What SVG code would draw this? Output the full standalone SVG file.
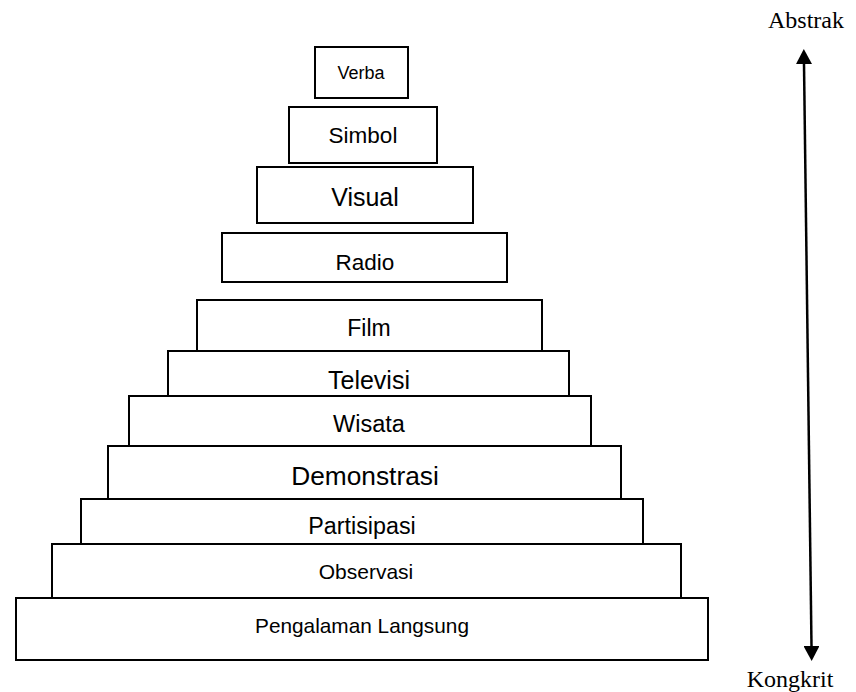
<svg xmlns="http://www.w3.org/2000/svg" width="856" height="692" viewBox="0 0 856 692">
<style>
.box{fill:#fff;stroke:#000;stroke-width:2}
.lbl{font-family:"Liberation Sans",Arial,sans-serif;fill:#000;text-anchor:middle}
.ax{font-family:"Liberation Serif","Times New Roman",serif;font-size:24px;fill:#000;text-anchor:middle}
.conn{stroke:#000;stroke-width:2.5;fill:none}
</style>
<defs>
<marker id="ah" markerUnits="userSpaceOnUse" markerWidth="16" markerHeight="16" refX="0" refY="8" orient="auto-start-reverse" viewBox="0 0 16 16">
<path d="M0,0 L15,8 L0,16 z" fill="#000"/>
</marker>
</defs>
<rect width="856" height="692" fill="#fff"/>
<g id="verba"><rect class="box" x="315" y="47" width="93" height="51"/><text class="lbl" x="361" y="79" font-size="18">Verba</text></g>
<g id="simbol"><rect class="box" x="289" y="107" width="148" height="56"/><text class="lbl" x="363" y="143" font-size="22.5">Simbol</text></g>
<g id="visual"><rect class="box" x="257" y="167" width="216" height="56"/><text class="lbl" x="365" y="206" font-size="25">Visual</text></g>
<g id="radio"><rect class="box" x="222" y="233" width="285" height="49"/><text class="lbl" x="365" y="270" font-size="22.5">Radio</text></g>
<g id="film"><rect class="box" x="197" y="300" width="345" height="51"/><text class="lbl" x="369" y="336" font-size="23">Film</text></g>
<g id="televisi"><rect class="box" x="168" y="351" width="401" height="45"/><text class="lbl" x="369" y="389" font-size="25">Televisi</text></g>
<g id="wisata"><rect class="box" x="129" y="396" width="462" height="50"/><text class="lbl" x="369" y="432" font-size="23.5">Wisata</text></g>
<g id="demonstrasi"><rect class="box" x="108" y="446" width="513" height="53"/><text class="lbl" x="365" y="485" font-size="26.3">Demonstrasi</text></g>
<g id="partisipasi"><rect class="box" x="81" y="499" width="562" height="45"/><text class="lbl" x="362" y="534" font-size="23.3">Partisipasi</text></g>
<g id="observasi"><rect class="box" x="52" y="544" width="629" height="54"/><text class="lbl" x="366" y="579" font-size="21">Observasi</text></g>
<g id="pengalaman"><rect class="box" x="16" y="598" width="692" height="62"/><text class="lbl" x="362" y="633" font-size="20.8">Pengalaman Langsung</text></g>
<g id="abstrak"><text class="ax" x="806" y="28">Abstrak</text></g>
<g id="kongkrit"><text class="ax" x="790" y="687">Kongkrit</text></g>
<g id="connectors">
<line class="conn" x1="804" y1="64" x2="811.5" y2="646" marker-start="url(#ah)" marker-end="url(#ah)"/>
</g>
</svg>
